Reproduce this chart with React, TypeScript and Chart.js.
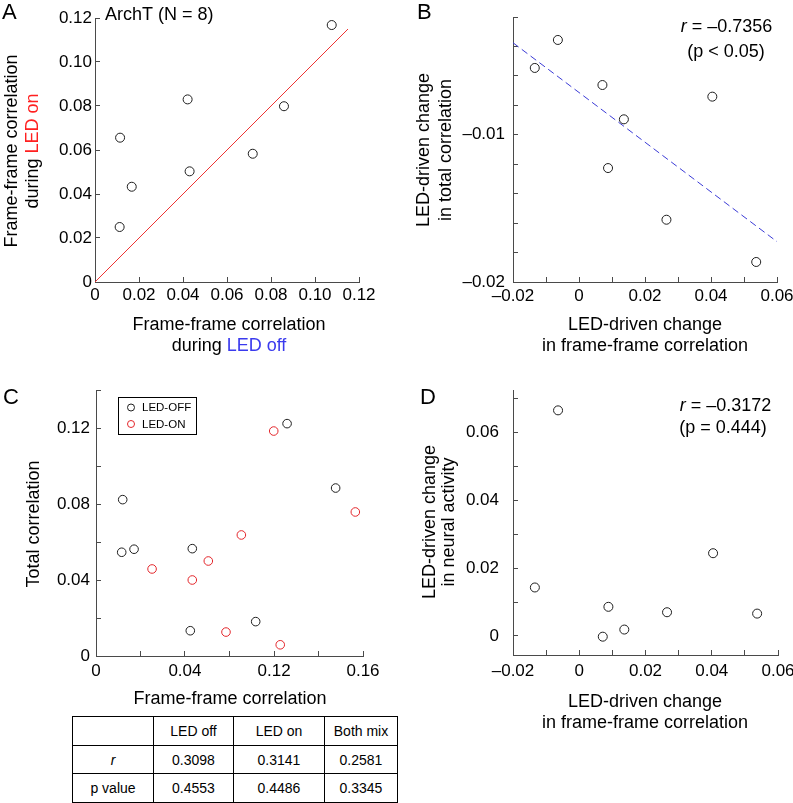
import React, { useEffect, useRef } from "react";
import { Chart, registerables } from "chart.js";

Chart.register(...registerables);

const FONT = "'Liberation Sans', Arial, Helvetica, sans-serif";
const AXIS = "#4a4a4a";
const MARK = "#1e1e1e";
const RED = "#e3262b";
const RED_LINE = "#ee3333";
const BLUE = "#3b3bd6";

// ---------- Panel A ----------
const aLedOff = [0.1076, 0.0421, 0.0859, 0.0114, 0.0717, 0.043, 0.0167, 0.0112];
const aLedOn = [0.1168, 0.083, 0.0799, 0.0656, 0.0583, 0.0503, 0.0433, 0.025];
const aUnityX = [0, 0.115];
const aUnityY = [0, 0.115];
const aTicks = [0, 0.02, 0.04, 0.06, 0.08, 0.1, 0.12];
const aTickLabels = ["0", "0.02", "0.04", "0.06", "0.08", "0.10", "0.12"];

// ---------- Panels B & D (shared x) ----------
const frameChange = [-0.0064, -0.0134, 0.0071, 0.0404, 0.0136, 0.0088, 0.0265, 0.0537];
const totalChange = [-0.00356, -0.00546, -0.00662, -0.00741, -0.00895, -0.01226, -0.01577, -0.01864];
const neuralChange = [0.0665, 0.0143, -0.0002, 0.0244, 0.0019, 0.0086, 0.007, 0.0066];
const bFitX = [-0.02, 0.06];
const bFitY = [-0.00375, -0.01726];
const bdXTicks = [-0.02, -0.01, 0, 0.01, 0.02, 0.03, 0.04, 0.05, 0.06];
const bdXTickLabels = ["\u20130.02", "", "0", "", "0.02", "", "0.04", "", "0.06"];
const bYTicks = [-0.02, -0.018, -0.016, -0.014, -0.012, -0.01, -0.008, -0.006, -0.004, -0.002];
const bYTickLabels = ["\u20130.02", "", "", "", "", "\u20130.01", "", "", "", ""];
const dYTicks = [0, 0.01, 0.02, 0.03, 0.04, 0.05, 0.06, 0.07];
const dYTickLabels = ["0", "", "0.02", "", "0.04", "", "0.06", ""];

// ---------- Panel C ----------
const cOffX = [0.016, 0.0154, 0.0228, 0.0577, 0.0565, 0.0957, 0.1145, 0.1436];
const cOffY = [0.0823, 0.0546, 0.0562, 0.0565, 0.0133, 0.0181, 0.1223, 0.0884];
const cOnX = [0.1065, 0.1554, 0.0871, 0.0673, 0.0336, 0.0577, 0.0779, 0.1104];
const cOnY = [0.1184, 0.0758, 0.0637, 0.05, 0.0458, 0.04, 0.0126, 0.0059];
const cXTicks = [0, 0.0267, 0.0533, 0.08, 0.1067, 0.1333, 0.16];
const cXTickLabels = ["0", "", "0.04", "", "0.12", "", "0.16"];
const cYTicks = [0, 0.02, 0.04, 0.06, 0.08, 0.1, 0.12, 0.14];
const cYTickLabels = ["0", "", "0.04", "", "0.08", "", "0.12", ""];

// ---------- Table ----------
const tableHeaders = ["LED off", "LED on", "Both mix"];
const tableR = ["0.3098", "0.3141", "0.2581"];
const tableP = ["0.4553", "0.4486", "0.3345"];

type Seg = { t: string; c?: string; i?: boolean };
type TextItem = { segs: Seg[]; x: number; y: number; size: number; align?: "left" | "center" | "right"; rot?: boolean };

const pts = (xs: number[], ys: number[]) => xs.map((x, i) => ({ x, y: ys[i] }));

function axis(which: "x" | "y", a: any, size: number) {
  return {
    type: "linear",
    position: which === "x" ? "bottom" : "left",
    min: a.min,
    max: a.max,
    afterBuildTicks: (s: any) => {
      s.ticks = a.ticks.map((v: number) => ({ value: v }));
    },
    afterFit: (s: any) => {
      if (which === "x") s.height = size;
      else s.width = size;
      s.paddingLeft = 0;
      s.paddingRight = 0;
      s.paddingTop = 0;
      s.paddingBottom = 0;
    },
    ticks: {
      autoSkip: false,
      maxRotation: 0,
      minRotation: 0,
      padding: a.pad,
      color: "#000",
      font: { family: FONT, size: 17 },
      callback: (_v: any, i: number) => a.labels[i] ?? "",
    },
    grid: {
      drawOnChartArea: false,
      drawTicks: true,
      tickLength: -5,
      color: AXIS,
      tickColor: AXIS,
      lineWidth: 1,
      tickWidth: 1,
    },
    border: { display: true, color: AXIS, width: 1 },
  };
}

function makePlugin(texts: TextItem[], ox: number, oy: number, legend?: any) {
  return {
    id: "panelText",
    afterDraw(chart: any) {
      const ctx = chart.ctx as CanvasRenderingContext2D;
      for (const it of texts) {
        ctx.save();
        ctx.translate(it.x - ox, it.y - oy);
        if (it.rot) ctx.rotate(-Math.PI / 2);
        ctx.textBaseline = "alphabetic";
        ctx.textAlign = "left";
        const fontFor = (s: Seg) => `${s.i ? "italic " : ""}${it.size}px ${FONT}`;
        let w = 0;
        for (const s of it.segs) {
          ctx.font = fontFor(s);
          w += ctx.measureText(s.t).width;
        }
        let x = it.align === "center" ? -w / 2 : it.align === "right" ? -w : 0;
        for (const s of it.segs) {
          ctx.font = fontFor(s);
          ctx.fillStyle = s.c || "#000";
          ctx.fillText(s.t, x, 0);
          x += ctx.measureText(s.t).width;
        }
        ctx.restore();
      }
      if (legend) {
        ctx.save();
        ctx.strokeStyle = "#000";
        ctx.lineWidth = 1;
        ctx.strokeRect(legend.x - ox + 0.5, legend.y - oy + 0.5, legend.w, legend.h);
        ctx.font = `${legend.size}px ${FONT}`;
        ctx.textBaseline = "middle";
        ctx.textAlign = "left";
        chart.data.datasets.forEach((ds: any, i: number) => {
          const cy = legend.y - oy + legend.rowY[i];
          ctx.beginPath();
          ctx.arc(legend.x - ox + legend.symX, cy, 3.5, 0, Math.PI * 2);
          ctx.strokeStyle = ds.pointBorderColor;
          ctx.lineWidth = 1;
          ctx.stroke();
          ctx.fillStyle = "#000";
          ctx.fillText(ds.label, legend.x - ox + legend.textX, cy + 0.5);
        });
        ctx.restore();
      }
    },
  };
}

type PanelSpec = {
  left: number;
  top: number;
  W: number;
  H: number;
  area: { l: number; t: number; r: number; b: number };
  x: any;
  y: any;
  datasets: any[];
  texts: TextItem[];
  legend?: any;
};

function buildConfig(p: PanelSpec): any {
  return {
    type: "scatter",
    data: { datasets: p.datasets },
    options: {
      responsive: false,
      animation: false,
      devicePixelRatio: 1,
      layout: { padding: { left: 0, top: p.area.t, right: p.W - p.area.r, bottom: 0 } },
      plugins: { legend: { display: false }, tooltip: { enabled: false }, title: { display: false } },
      scales: {
        x: axis("x", p.x, p.H - p.area.b),
        y: axis("y", p.y, p.area.l),
      },
    },
    plugins: [makePlugin(p.texts, p.left, p.top, p.legend)],
  };
}

function Panel({ spec }: { spec: PanelSpec }) {
  const ref = useRef<HTMLCanvasElement>(null);
  useEffect(() => {
    const chart = new Chart(ref.current as HTMLCanvasElement, buildConfig(spec));
    return () => chart.destroy();
  }, []);
  return (
    <canvas
      ref={ref}
      width={spec.W}
      height={spec.H}
      style={{ position: "absolute", left: spec.left, top: spec.top, width: spec.W, height: spec.H }}
    />
  );
}

const markerDs = (label: string, data: any[], color: string, r = 4.5) => ({
  label,
  data,
  showLine: false,
  pointRadius: r,
  pointBorderWidth: 1,
  pointBorderColor: color,
  pointBackgroundColor: "rgba(0,0,0,0)",
  clip: false,
});
const lineDs = (label: string, data: any[], color: string, dash: number[] = []) => ({
  label,
  data,
  showLine: true,
  borderColor: color,
  borderWidth: 1,
  borderDash: dash,
  pointRadius: 0,
  fill: false,
  clip: false,
});

const panelA: PanelSpec = {
  left: 0,
  top: 0,
  W: 400,
  H: 368,
  area: { l: 95, t: 18, r: 359, b: 282 },
  x: { min: 0, max: 0.12, ticks: aTicks, labels: aTickLabels, pad: 8 },
  y: { min: 0, max: 0.12, ticks: aTicks, labels: aTickLabels, pad: 8 },
  datasets: [markerDs("ArchT", pts(aLedOff, aLedOn), MARK), lineDs("unity", pts(aUnityX, aUnityY), RED_LINE)],
  texts: [
    { segs: [{ t: "A" }], x: 2, y: 18.5, size: 22 },
    { segs: [{ t: "ArchT (N = 8)" }], x: 105, y: 19.5, size: 18 },
    { segs: [{ t: "Frame-frame correlation" }], x: 16.5, y: 151, size: 18, align: "center", rot: true },
    { segs: [{ t: "during " }, { t: "LED on", c: "#ff2020" }], x: 37.5, y: 151, size: 18, align: "center", rot: true },
    { segs: [{ t: "Frame-frame correlation" }], x: 229, y: 330, size: 18, align: "center" },
    { segs: [{ t: "during " }, { t: "LED off", c: "#3a3aee" }], x: 229, y: 351, size: 18, align: "center" },
  ],
};

const panelB: PanelSpec = {
  left: 400,
  top: 0,
  W: 393,
  H: 368,
  area: { l: 113, t: 17, r: 377, b: 282 },
  x: { min: -0.02, max: 0.06, ticks: bdXTicks, labels: bdXTickLabels, pad: 9 },
  y: { min: -0.02, max: -0.002, ticks: bYTicks, labels: bYTickLabels, pad: 13 },
  datasets: [markerDs("B", pts(frameChange, totalChange), MARK), lineDs("fit", pts(bFitX, bFitY), BLUE, [7, 4])],
  texts: [
    { segs: [{ t: "B" }], x: 417, y: 18.5, size: 22 },
    { segs: [{ t: "r", i: true }, { t: " = \u20130.7356" }], x: 726.5, y: 31.7, size: 18, align: "center" },
    { segs: [{ t: "(p < 0.05)" }], x: 726, y: 56.5, size: 18, align: "center" },
    { segs: [{ t: "LED-driven change" }], x: 429, y: 150, size: 18, align: "center", rot: true },
    { segs: [{ t: "in total correlation" }], x: 451, y: 150, size: 18, align: "center", rot: true },
    { segs: [{ t: "LED-driven change" }], x: 645, y: 330, size: 18, align: "center" },
    { segs: [{ t: "in frame-frame correlation" }], x: 645, y: 351, size: 18, align: "center" },
  ],
};

const panelC: PanelSpec = {
  left: 0,
  top: 370,
  W: 400,
  H: 345,
  area: { l: 96, t: 20, r: 363, b: 286 },
  x: { min: 0, max: 0.16, ticks: cXTicks, labels: cXTickLabels, pad: 10 },
  y: { min: 0, max: 0.14, ticks: cYTicks, labels: cYTickLabels, pad: 11 },
  datasets: [markerDs("LED-OFF", pts(cOffX, cOffY), MARK, 4.3), markerDs("LED-ON", pts(cOnX, cOnY), RED, 4.3)],
  texts: [
    { segs: [{ t: "C" }], x: 3, y: 403.5, size: 22 },
    { segs: [{ t: "Total correlation" }], x: 39, y: 524, size: 18, align: "center", rot: true },
    { segs: [{ t: "Frame-frame correlation" }], x: 230, y: 704, size: 18, align: "center" },
  ],
  legend: { x: 118, y: 397, w: 78, h: 37, size: 11.5, symX: 13, textX: 24, rowY: [10.5, 27] },
};

const panelD: PanelSpec = {
  left: 400,
  top: 370,
  W: 393,
  H: 380,
  area: { l: 113, t: 20, r: 378, b: 285 },
  x: { min: -0.02, max: 0.06, ticks: bdXTicks, labels: bdXTickLabels, pad: 11 },
  y: { min: -0.0056, max: 0.0725, ticks: dYTicks, labels: dYTickLabels, pad: 19 },
  datasets: [markerDs("D", pts(frameChange, neuralChange), MARK)],
  texts: [
    { segs: [{ t: "D" }], x: 420, y: 403.5, size: 22 },
    { segs: [{ t: "r", i: true }, { t: " = \u20130.3172" }], x: 725.5, y: 411, size: 18, align: "center" },
    { segs: [{ t: "(p = 0.444)" }], x: 723, y: 433, size: 18, align: "center" },
    { segs: [{ t: "LED-driven change" }], x: 435, y: 522, size: 18, align: "center", rot: true },
    { segs: [{ t: "in neural activity" }], x: 454, y: 522, size: 18, align: "center", rot: true },
    { segs: [{ t: "LED-driven change" }], x: 645, y: 707, size: 18, align: "center" },
    { segs: [{ t: "in frame-frame correlation" }], x: 645, y: 728, size: 18, align: "center" },
  ],
};

function StatsTable() {
  const colW = [81, 80, 91, 73];
  const rowH = [29, 28, 29];
  const cell: React.CSSProperties = {
    border: "1px solid #000",
    padding: 0,
    textAlign: "center",
    verticalAlign: "middle",
    fontFamily: FONT,
    fontSize: 14,
    color: "#000",
  };
  return (
    <table
      style={{
        position: "absolute",
        left: 72,
        top: 716,
        borderCollapse: "collapse",
        tableLayout: "fixed",
        width: colW.reduce((s, v) => s + v, 0),
      }}
    >
      <colgroup>
        {colW.map((w, i) => (
          <col key={i} style={{ width: w }} />
        ))}
      </colgroup>
      <tbody>
        <tr style={{ height: rowH[0] }}>
          <td style={cell}></td>
          {tableHeaders.map((h) => (
            <td key={h} style={cell}>
              {h}
            </td>
          ))}
        </tr>
        <tr style={{ height: rowH[1] }}>
          <td style={{ ...cell, fontStyle: "italic" }}>r</td>
          {tableR.map((v, i) => (
            <td key={i} style={cell}>
              {v}
            </td>
          ))}
        </tr>
        <tr style={{ height: rowH[2] }}>
          <td style={cell}>p value</td>
          {tableP.map((v, i) => (
            <td key={i} style={cell}>
              {v}
            </td>
          ))}
        </tr>
      </tbody>
    </table>
  );
}

export default function App() {
  return (
    <div style={{ position: "absolute", left: 0, top: 0, width: 793, height: 803, background: "#fff", overflow: "hidden" }}>
      <Panel spec={panelA} />
      <Panel spec={panelB} />
      <Panel spec={panelC} />
      <Panel spec={panelD} />
      <StatsTable />
    </div>
  );
}
